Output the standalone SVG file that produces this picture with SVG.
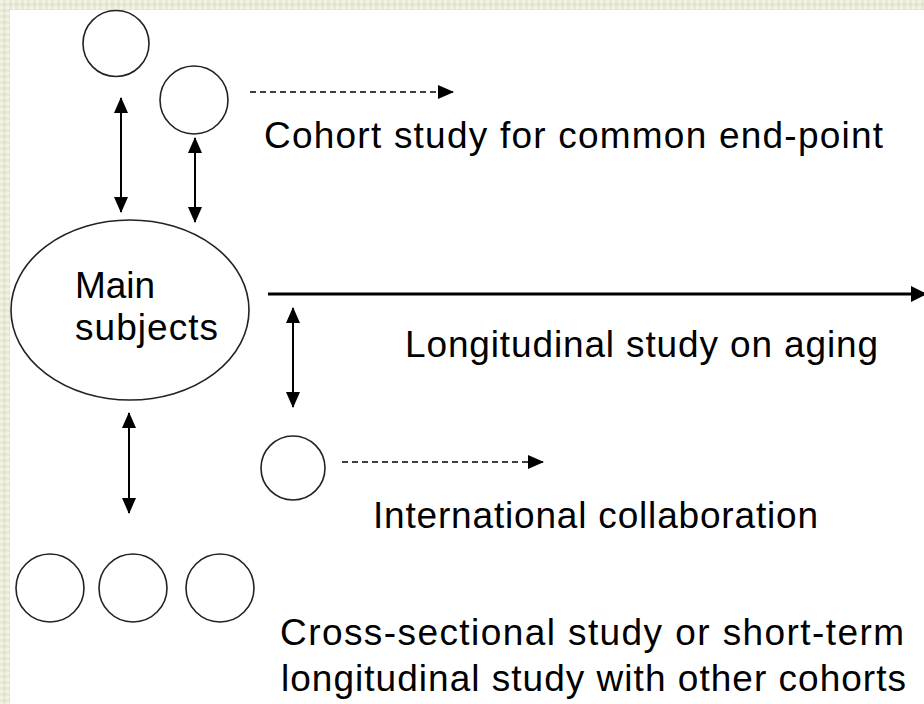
<svg xmlns="http://www.w3.org/2000/svg" width="924" height="704" viewBox="0 0 924 704">
  <defs>
    <pattern id="tex" width="6" height="6" patternUnits="userSpaceOnUse">
      <rect width="6" height="6" fill="#e9e9d6"/>
      <rect x="0" y="0" width="3" height="3" fill="#f3f3e6"/>
      <rect x="3" y="3" width="3" height="3" fill="#e2e2cc"/>
    </pattern>
    <marker id="hd" viewBox="0 0 16 14" refX="15" refY="7" markerWidth="16" markerHeight="14" markerUnits="userSpaceOnUse" orient="auto-start-reverse">
      <path d="M0,0 L16,7 L0,14 Z" fill="#000"/>
    </marker>
    <marker id="hb" viewBox="0 0 16 16" refX="15" refY="8" markerWidth="16" markerHeight="16" markerUnits="userSpaceOnUse" orient="auto">
      <path d="M0,0 L16,8 L0,16 Z" fill="#000"/>
    </marker>
  </defs>
  <style>
    .node { fill: #fff; stroke: #222; stroke-width: 1.6; }
    .lbl { font-family: "Liberation Sans", Arial, sans-serif; font-size: 37px; fill: #000; }
    .dbl { stroke: #000; stroke-width: 2; fill: none; marker-start: url(#hd); marker-end: url(#hd); }
    .dash { stroke: #000; stroke-width: 1.5; stroke-dasharray: 6 4; fill: none; marker-end: url(#hd); }
    .main { stroke: #000; stroke-width: 3; fill: none; marker-end: url(#hb); }
  </style>

  <rect width="924" height="704" fill="url(#tex)"/>
  <rect x="10" y="10" width="914" height="694" fill="#fff"/>

  <g id="connectors">
    <line class="dbl" x1="121" y1="98" x2="121" y2="212"/>
    <line class="dbl" x1="195" y1="138" x2="195" y2="222"/>
    <line class="dbl" x1="293" y1="308" x2="293" y2="407"/>
    <line class="dbl" x1="129" y1="413" x2="129" y2="513"/>
    <line class="dash" x1="250" y1="92" x2="453" y2="92"/>
    <line class="dash" x1="342" y1="462" x2="543" y2="462"/>
    <line class="main" x1="268" y1="294" x2="926" y2="294"/>
  </g>

  <g id="cohort-top">
    <circle class="node" cx="116" cy="43.5" r="33"/>
  </g>
  <g id="cohort-common">
    <circle class="node" cx="194" cy="100" r="34"/>
  </g>
  <g id="main-subjects">
    <ellipse class="node" cx="130" cy="310" rx="119" ry="90"/>
    <text class="lbl" x="75" y="298" textLength="80" lengthAdjust="spacing">Main</text>
    <text class="lbl" x="75" y="340" textLength="143" lengthAdjust="spacing">subjects</text>
  </g>
  <g id="international">
    <circle class="node" cx="293" cy="468" r="32"/>
  </g>
  <g id="cross-1">
    <circle class="node" cx="50" cy="588" r="34"/>
  </g>
  <g id="cross-2">
    <circle class="node" cx="133" cy="588" r="34"/>
  </g>
  <g id="cross-3">
    <circle class="node" cx="220" cy="588" r="34"/>
  </g>

  <g id="labels">
    <text class="lbl" x="264" y="148" textLength="619" lengthAdjust="spacing">Cohort study for common end-point</text>
    <text class="lbl" x="405" y="357" textLength="473" lengthAdjust="spacing">Longitudinal study on aging</text>
    <text class="lbl" x="373" y="528" textLength="445" lengthAdjust="spacing">International collaboration</text>
    <text class="lbl" x="280" y="645" textLength="624" lengthAdjust="spacing">Cross-sectional study or short-term</text>
    <text class="lbl" x="281" y="691" textLength="625" lengthAdjust="spacing">longitudinal study with other cohorts</text>
  </g>
</svg>
